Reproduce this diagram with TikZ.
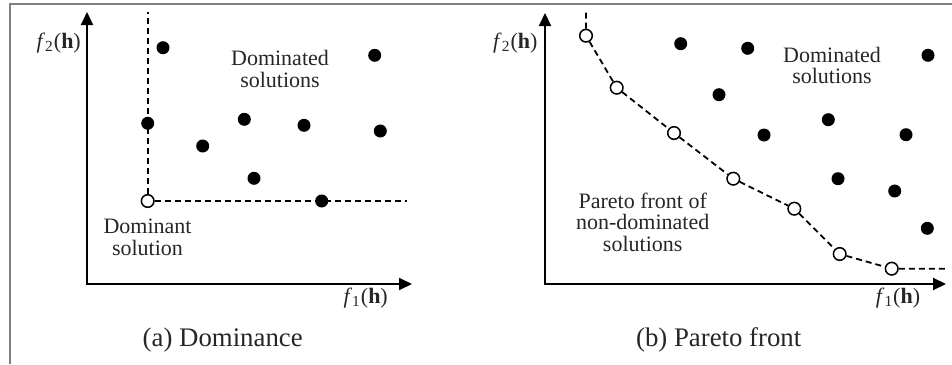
\documentclass[tikz,border=0pt]{standalone}
\usepackage{fontspec}
\setmainfont{Liberation Serif}
\usetikzlibrary{arrows.meta}

\begin{document}
\begin{tikzpicture}[x=0.5pt, y=-0.5pt, >={Triangle[length=6.5pt, width=6pt]},
    dot/.style={circle, fill=black, inner sep=0pt, minimum size=6.5pt},
    hollow/.style={circle, draw, fill=white, line width=0.75pt, inner sep=0pt, minimum size=6.3pt},
    lbl/.style={align=center, text=black!85, font=\fontsize{11}{10.8}\selectfont},
    caption/.style={text=black!85, font=\fontsize{13.4}{15}\selectfont},
    axis/.style={<->, line width=1pt},
    front/.style={dash pattern=on 3pt off 2pt, line width=0.9pt}]
    \useasboundingbox (0,0) rectangle (952,364);
    \draw[gray, line width=1.2pt] (10,364) -- (10,4) -- (952,4);

    % (a) dominance
    \coordinate (oa) at (87,284);
    \coordinate (xa) at (412,284);
    \coordinate (ya) at (87,12);
    \draw[axis] (ya) -- (oa) -- (xa);
    \node[lbl] (f2a) at (58.7,43.3) {\textit{f}\textsubscript{2}(\textbf{h})};
    \node[lbl] (f1a) at (365.7,297.7) {\textit{f}\textsubscript{1}(\textbf{h})};
    \node[hollow] (dom) at (147.7,201) {};
    \coordinate (ta) at (147.7,11.7);
    \coordinate (ra) at (407,201);
    \draw[front] (dom) -- (ta);
    \draw[front] (dom) -- (ra);
    \node[dot] (a1) at (163,47.7) {};
    \node[dot] (a2) at (374.7,55.3) {};
    \node[dot] (a3) at (147.7,123.3) {};
    \node[dot] (a4) at (244.3,119.3) {};
    \node[dot] (a5) at (304,125.3) {};
    \node[dot] (a6) at (380.3,131) {};
    \node[dot] (a7) at (202.7,146) {};
    \node[dot] (a8) at (254,178.3) {};
    \node[dot] (a9) at (321.7,201) {};
    \node[lbl] (doma) at (280,69) {Dominated\\solutions};
    \node[lbl] (domt) at (147.5,237.5) {Dominant\\solution};
    \node[caption] (capa) at (222.7,340) {(a) Dominance};

    % (b) pareto front
    \coordinate (ob) at (545,284);
    \coordinate (xb) at (946,284);
    \coordinate (yb) at (545,13);
    \draw[axis] (yb) -- (ob) -- (xb);
    \node[lbl] (f2b) at (515.3,43.3) {\textit{f}\textsubscript{2}(\textbf{h})};
    \node[lbl] (f1b) at (898,297.7) {\textit{f}\textsubscript{1}(\textbf{h})};
    \node[hollow] (q1) at (586,35.7) {};
    \node[hollow] (q2) at (616.7,87.7) {};
    \node[hollow] (q3) at (674,133) {};
    \node[hollow] (q4) at (733.3,178.7) {};
    \node[hollow] (q5) at (794.3,208.7) {};
    \node[hollow] (q6) at (839.7,254) {};
    \node[hollow] (q7) at (891.7,268.7) {};
    \coordinate (tb) at (586,12.7);
    \coordinate (rb) at (946,268.7);
    \draw[front] (tb) -- (q1) -- (q2) -- (q3) -- (q4) -- (q5) -- (q6) -- (q7) -- (rb);
    \node[dot] (b1) at (680.7,43.7) {};
    \node[dot] (b2) at (747.7,48.3) {};
    \node[dot] (b3) at (928,55.3) {};
    \node[dot] (b4) at (719,94.7) {};
    \node[dot] (b5) at (828.3,119.7) {};
    \node[dot] (b6) at (764,135) {};
    \node[dot] (b7) at (906,134.7) {};
    \node[dot] (b8) at (838,178.7) {};
    \node[dot] (b9) at (894.7,191) {};
    \node[dot] (b10) at (927.3,228.3) {};
    \node[lbl] (domb) at (832,65.5) {Dominated\\solutions};
    \node[lbl] (par) at (642.7,222) {Pareto front of\\non-dominated\\solutions};
    \node[caption] (capb) at (718.7,340) {(b) Pareto front};
\end{tikzpicture}
\end{document}
